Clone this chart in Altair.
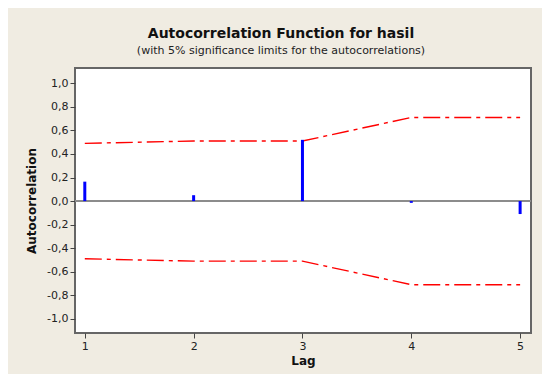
import altair as alt
import pandas as pd

lags = [1, 2, 3, 4, 5]
acf = [0.165, 0.05, 0.52, -0.015, -0.11]
upper = [0.49, 0.51, 0.51, 0.71, 0.71]
lower = [-0.49, -0.51, -0.51, -0.71, -0.71]
y_ticks = [-1.0, -0.8, -0.6, -0.4, -0.2, 0.0, 0.2, 0.4, 0.6, 0.8, 1.0]

df = pd.DataFrame({"lag": lags, "acf": acf, "upper": upper, "lower": lower})

FONT = "DejaVu Sans"
x_scale = alt.Scale(domain=[0.91, 5.1], nice=False, zero=False)
y_scale = alt.Scale(domain=[-1.12, 1.13], nice=False, zero=False)

x_axis = alt.Axis(values=lags, title="Lag", grid=False, domain=False, tickSize=5,
                  tickColor="#444", labelFontSize=11, labelColor="#222", labelFont=FONT,
                  titleFont=FONT, titleFontSize=12, titleFontWeight="bold", titleColor="#111",
                  titlePadding=4, labelPadding=2, format="d", labelOverlap=False)
y_axis = alt.Axis(values=y_ticks, title="Autocorrelation", grid=False, domain=False, tickSize=5,
                  tickColor="#444", labelFontSize=11, labelColor="#222", labelFont=FONT,
                  titleFont=FONT, titleFontSize=12, titleFontWeight="bold", titleColor="#111",
                  titlePadding=8, labelPadding=2, labelOverlap=False, labelBound=False,
                  labelExpr="(datum.value < -0.001 ? '-' : '') + replace(format(abs(datum.value), '.1f'), '.', ',')")

base = alt.Chart(df)

bars = base.mark_rule(color="#0000ff", strokeWidth=3).encode(
    x=alt.X("lag:Q", scale=x_scale, axis=x_axis),
    y=alt.Y("acf:Q", scale=y_scale, axis=y_axis),
    y2=alt.datum(0),
)

zero = base.mark_rule(color="#8c8c8c", strokeWidth=2).encode(
    y=alt.Y(datum=0, scale=y_scale, axis=y_axis))

up = base.mark_line(color="#ff0000", strokeWidth=1.4, strokeDash=[17, 5, 4, 5]).encode(
    x=alt.X("lag:Q", scale=x_scale, axis=x_axis), y=alt.Y("upper:Q", scale=y_scale, axis=y_axis))
lo = base.mark_line(color="#ff0000", strokeWidth=1.4, strokeDash=[17, 5, 4, 5]).encode(
    x=alt.X("lag:Q", scale=x_scale, axis=x_axis), y=alt.Y("lower:Q", scale=y_scale, axis=y_axis))

chart = alt.layer(zero, up, lo, bars).properties(
    width=456, height=265,
    autosize=alt.AutoSizeParams(type="none"),
    padding={"left": 67, "top": 60, "right": 11, "bottom": 41},
    background="#f0ece2",
    title=alt.TitleParams(
        text="Autocorrelation Function for hasil",
        subtitle="(with 5% significance limits for the autocorrelations)",
        font=FONT, fontSize=14, fontWeight="bold", color="#111",
        subtitleFont=FONT, subtitleFontSize=11, subtitleColor="#222",
        subtitlePadding=4, offset=12, anchor="middle", dx=-22,
    ),
).configure_view(fill="white", stroke="#666", strokeWidth=2)

chart.save("out.html", embed_options={"renderer": "svg", "actions": False})
